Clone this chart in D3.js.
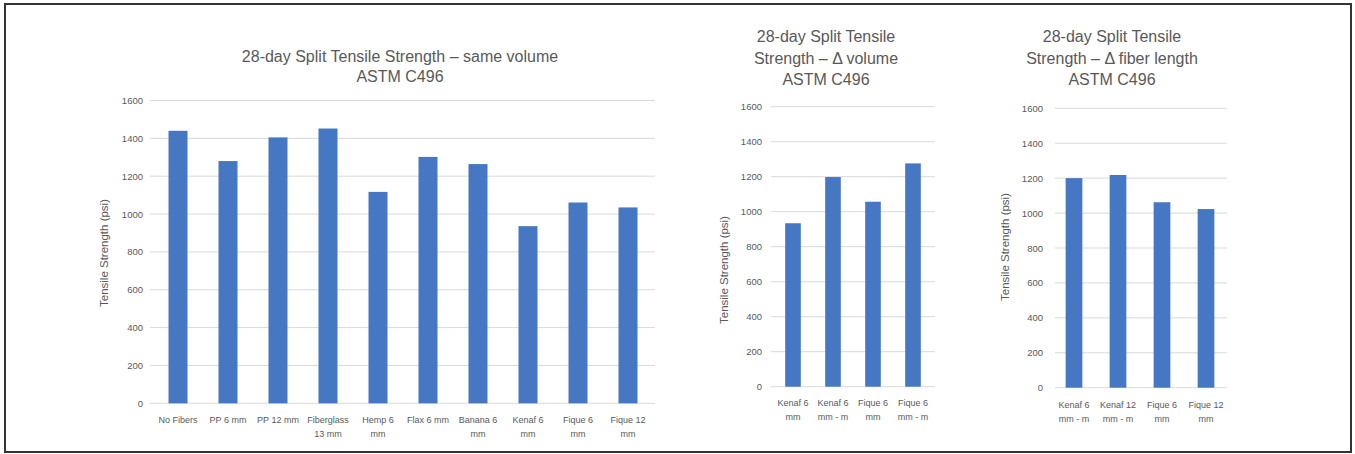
<!DOCTYPE html>
<html>
<head>
<meta charset="utf-8">
<script src="https://cdn.jsdelivr.net/npm/d3@7"></script>
<style>
  html, body { margin: 0; padding: 0; background: #fff; }
  svg { display: block; font-family: "Liberation Sans", "DejaVu Sans", sans-serif; }
</style>
</head>
<body>
<svg id="chart" width="1355" height="454"></svg>
<script>
// ---------- data ----------
const categories1 = ["No Fibers", "PP 6 mm", "PP 12 mm", "Fiberglass\n13 mm", "Hemp 6\nmm",
                     "Flax 6 mm", "Banana 6\nmm", "Kenaf 6\nmm", "Fique 6\nmm", "Fique 12\nmm"];
const values1 = [1440, 1280, 1405, 1452, 1117, 1302, 1264, 936, 1061, 1035];

const categories2 = ["Kenaf 6\nmm", "Kenaf 6\nmm - m", "Fique 6\nmm", "Fique 6\nmm - m"];
const values2 = [934, 1198, 1057, 1276];

const categories3 = ["Kenaf 6\nmm - m", "Kenaf 12\nmm - m", "Fique 6\nmm", "Fique 12\nmm"];
const values3 = [1200, 1218, 1062, 1023];

const yTicks = [0, 200, 400, 600, 800, 1000, 1200, 1400, 1600];

const titles1 = ["28-day Split Tensile Strength \u2013 same volume", "ASTM C496"];
const titles2 = ["28-day Split Tensile", "Strength \u2013 \u0394 volume", "ASTM C496"];
const titles3 = ["28-day Split Tensile", "Strength \u2013 \u0394 fiber length", "ASTM C496"];
const yLabel = "Tensile Strength (psi)";

// ---------- drawing ----------
const svg = d3.select("#chart");
const BAR = "#4677c2";
const TEXT = "#595959";
const GRID = "#d9d9d9";

svg.append("rect").attr("x", 5).attr("y", 4).attr("width", 1346).attr("height", 448)
  .attr("fill", "#fff").attr("stroke", "#333").attr("stroke-width", 2);

function drawChart(cfg) {
  const g = svg.append("g");
  const x = d3.scaleBand().domain(cfg.categories).range([cfg.x0, cfg.x1]).paddingInner(cfg.pad).paddingOuter(cfg.pad / 2);
  const y = d3.scaleLinear().domain([0, 1600]).range([cfg.yb, cfg.yt]);

  // gridlines
  g.append("g").selectAll("line").data(yTicks).join("line")
    .attr("x1", cfg.gx0).attr("x2", cfg.gx1)
    .attr("y1", d => y(d)).attr("y2", d => y(d))
    .attr("stroke", GRID).attr("stroke-width", 1);

  // y axis tick labels
  const yAxis = d3.axisLeft(y).tickValues(yTicks).tickFormat(d3.format("d")).tickSize(0).tickPadding(0);
  const ya = g.append("g").attr("transform", `translate(${cfg.tickX},0)`).call(yAxis);
  ya.select(".domain").remove();
  ya.selectAll("text").attr("fill", TEXT).style("font-size", "9.5px");

  // bars
  g.append("g").selectAll("rect").data(cfg.values).join("rect")
    .attr("x", (d, i) => x(cfg.categories[i]))
    .attr("width", x.bandwidth())
    .attr("y", d => y(d))
    .attr("height", d => y(0) - y(d))
    .attr("fill", BAR);

  // x axis labels
  const xAxis = d3.axisBottom(x).tickSize(0).tickPadding(0);
  const xa = g.append("g").attr("transform", `translate(0,${cfg.xLabelY})`).call(xAxis);
  xa.select(".domain").remove();
  xa.selectAll("text").each(function(d) {
    const t = d3.select(this);
    t.text(null).attr("fill", TEXT).style("font-size", "9px").attr("dy", null).attr("y", 0);
    d.split("\n").forEach((line, i) => {
      t.append("tspan").attr("x", 0).attr("y", i * 14).text(line);
    });
  });

  // y label
  g.append("text")
    .attr("transform", `translate(${cfg.yLabelX},${cfg.yLabelY}) rotate(-90)`)
    .attr("text-anchor", "middle").attr("fill", TEXT).style("font-size", "11.5px")
    .text(yLabel);

  // title
  const tt = g.append("text").attr("text-anchor", "middle").attr("fill", TEXT).style("font-size", "16px");
  cfg.titles.forEach((line, i) => {
    tt.append("tspan").attr("x", cfg.titleX).attr("y", cfg.titleY + i * cfg.titleLH).text(line);
  });
}

drawChart({
  categories: categories1, values: values1, titles: titles1,
  x0: 153, x1: 653, pad: 0.62, yb: 403.3, yt: 100.5, gx0: 150, gx1: 655,
  tickX: 143, xLabelY: 423, yLabelX: 108, yLabelY: 253,
  titleX: 400, titleY: 62, titleLH: 20
});

drawChart({
  categories: categories2, values: values2, titles: titles2,
  x0: 773, x1: 933, pad: 0.61, yb: 386.7, yt: 106.7, gx0: 771, gx1: 935,
  tickX: 762, xLabelY: 406, yLabelX: 728, yLabelY: 270,
  titleX: 826, titleY: 42, titleLH: 21.5
});

drawChart({
  categories: categories3, values: values3, titles: titles3,
  x0: 1052, x1: 1228, pad: 0.62, yb: 387.7, yt: 108.3, gx0: 1055, gx1: 1227,
  tickX: 1043, xLabelY: 408, yLabelX: 1009, yLabelY: 247,
  titleX: 1112, titleY: 42, titleLH: 21.5
});
</script>
</body>
</html>
